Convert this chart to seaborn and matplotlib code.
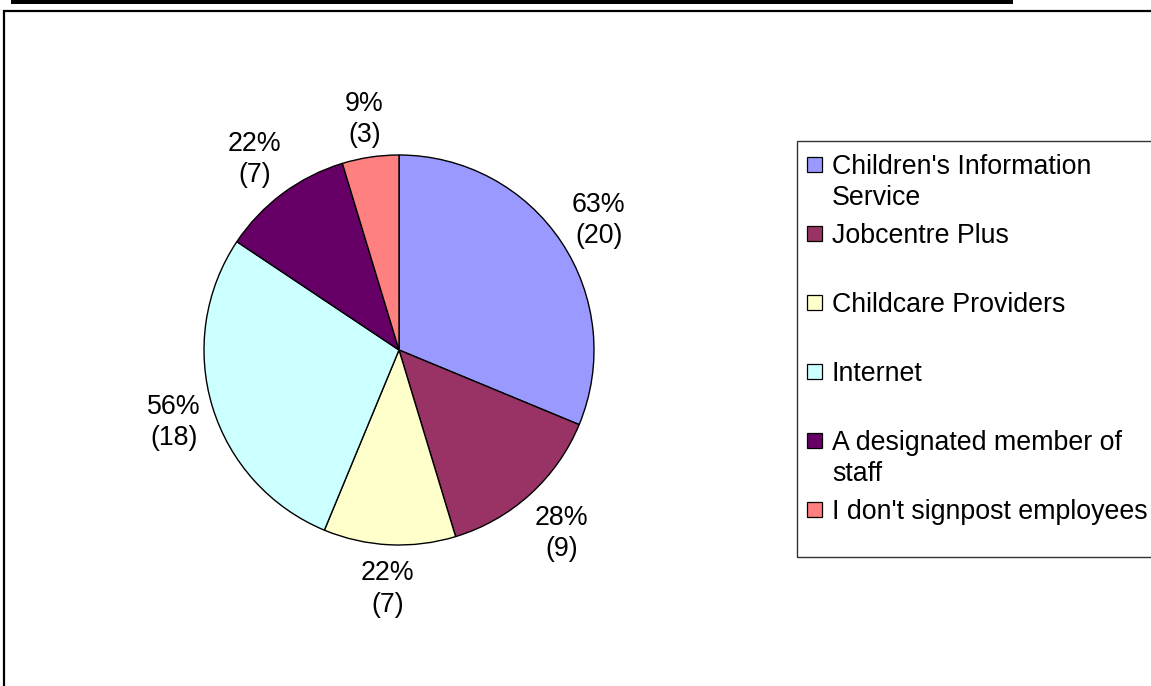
import matplotlib
matplotlib.use("Agg")
import matplotlib.pyplot as plt
from matplotlib.patches import Rectangle
import numpy as np
import seaborn as sns

# Where employers signpost employees for childcare information (multiple answers)
sources = [
    "Children's Information\nService",
    "Jobcentre Plus",
    "Childcare Providers",
    "Internet",
    "A designated member of\nstaff",
    "I don't signpost employees",
]
counts = [20, 9, 7, 18, 7, 3]
respondents = 32
colors = ["#9999FF", "#993366", "#FFFFCC", "#CCFFFF", "#660066", "#FF8080"]

sns.set_theme(style="white")
plt.rcParams["font.family"] = ["Liberation Sans", "DejaVu Sans"]
FS = 19.3
LS = 1.27

W, H = 1151, 686
fig = plt.figure(figsize=(W / 100, H / 100), dpi=100)
fig.patch.set_facecolor("white")


def fx(x):
    return x / W


def fy(y):
    return 1 - y / H


# header rule and chart frame
fig.add_artist(Rectangle((fx(11), fy(4)), fx(1013) - fx(11), 4 / H,
                         transform=fig.transFigure, facecolor="black",
                         edgecolor="none"))
fig.add_artist(Rectangle((fx(4), -0.2), 1.3, fy(11) + 0.2,
                         transform=fig.transFigure, fill=False,
                         edgecolor="black", lw=1.6))

# pie
cx, cy, r = 399, 350, 195
half = 205
ax = fig.add_axes([fx(cx - half), fy(cy + half), 2 * half / W, 2 * half / H])
palette = sns.color_palette(colors)
wedges, _ = ax.pie(counts, colors=palette, startangle=90, counterclock=False,
                   radius=1, wedgeprops=dict(edgecolor="black", linewidth=1.0))
lim = half / r
ax.set_xlim(-lim, lim)
ax.set_ylim(-lim, lim)
ax.set_aspect("equal")
ax.axis("off")

# data labels sit just outside the rim, offset by the label box half-size
gap, hw, hh, drop = 8 / r, 24 / r, 31 / r, 4 / r
for w, c in zip(wedges, counts):
    theta = np.deg2rad((w.theta1 + w.theta2) / 2)
    pct = int(100 * c / respondents + 0.5)
    d = 1 + gap + abs(np.cos(theta)) * hw + abs(np.sin(theta)) * hh
    ax.text(d * np.cos(theta), d * np.sin(theta) - drop, f"{pct}%\n({c})",
            ha="center", va="center", fontsize=FS, linespacing=LS,
            color="black", clip_on=False)

# legend box
fig.add_artist(Rectangle((fx(797), fy(557)), 1.0, fy(141) - fy(557),
                         transform=fig.transFigure, fill=False,
                         edgecolor="#333333", lw=1.0))
top0, pitch = 155, 69
for i, (label, col) in enumerate(zip(sources, palette)):
    cap_top = top0 + pitch * i
    fig.add_artist(Rectangle((fx(807), fy(cap_top + 17)), 15 / W, 15 / H,
                             transform=fig.transFigure, facecolor=col,
                             edgecolor="black", lw=0.9))
    fig.text(fx(832), fy(cap_top - 1), label, ha="left", va="top",
             fontsize=FS, linespacing=LS, color="black")

fig.savefig("out.png", dpi=100)
